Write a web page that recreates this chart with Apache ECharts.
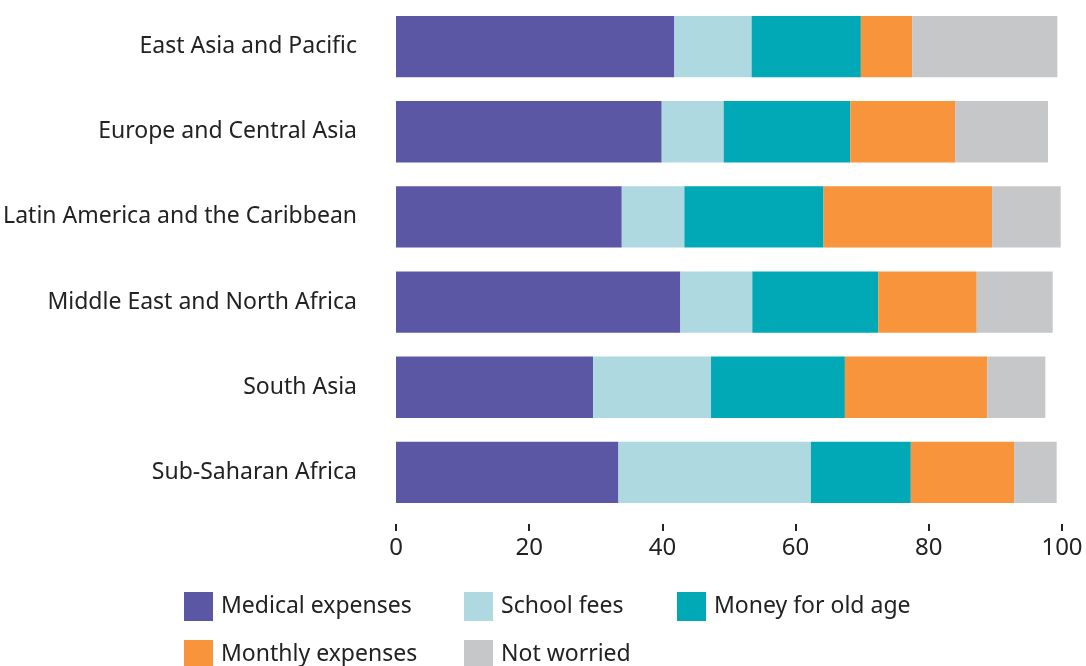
<!DOCTYPE html>
<html>
<head>
<meta charset="utf-8">
<script src="https://cdn.jsdelivr.net/npm/echarts@6/dist/echarts.min.js"></script>
<style>
    html, body { margin: 0; padding: 0; background: #fff; }
    #main { width: 1086px; height: 666px; }
</style>
</head>
<body>
<div id="main"></div>
<script>
    var regions = [
        'East Asia and Pacific',
        'Europe and Central Asia',
        'Latin America and the Caribbean',
        'Middle East and North Africa',
        'South Asia',
        'Sub-Saharan Africa'
    ];
    var medical = [41.8, 39.9, 33.9, 42.7, 29.6, 33.4];
    var school = [11.6, 9.3, 9.4, 10.8, 17.7, 28.9];
    var oldAge = [16.4, 19.0, 20.9, 18.9, 20.1, 15.0];
    var monthly = [7.7, 15.8, 25.3, 14.8, 21.4, 15.5];
    var notWorried = [21.8, 13.9, 10.3, 11.4, 8.7, 6.4];
    var xTicks = [0, 20, 40, 60, 80, 100];

    var names = ['Medical expenses', 'School fees', 'Money for old age', 'Monthly expenses', 'Not worried'];
    var values = [medical, school, oldAge, monthly, notWorried];
    var colors = ['#5c57a4', '#afd9e0', '#00a9b5', '#f7943c', '#c6c7c9'];

    var font = 'Noto Sans';
    var myChart = echarts.init(document.getElementById('main'));

    var series = [];
    for (var i = 0; i < names.length; i++) {
        series.push({
            name: names[i],
            type: 'bar',
            stack: 'total',
            barCategoryGap: '28%',
            itemStyle: {color: colors[i]},
            data: values[i]
        });
    }

    // one legend per item so the two rows line up in columns
    function legend(left, top, name) {
        return {
            left: left,
            top: top,
            itemWidth: 29,
            itemHeight: 29,
            icon: 'rect',
            data: [name],
            textStyle: {fontFamily: font, fontSize: 23, color: '#222', padding: [0, 0, 0, 3]}
        };
    }

    var option = {
        backgroundColor: '#fff',
        animation: false,
        color: colors,
        grid: {
            left: 396,
            right: 24,
            top: 4,
            height: 511
        },
        xAxis: {
            type: 'value',
            min: xTicks[0],
            max: xTicks[xTicks.length - 1],
            interval: 20,
            offset: 9,
            axisLine: {show: false},
            axisTick: {show: true, length: 7, lineStyle: {color: '#222', width: 2}},
            splitLine: {show: false},
            axisLabel: {
                margin: 12,
                fontFamily: font,
                fontSize: 24,
                color: '#222'
            }
        },
        yAxis: {
            type: 'category',
            inverse: true,
            data: regions,
            axisLine: {show: false},
            axisTick: {show: false},
            axisLabel: {
                margin: 39,
                fontFamily: font,
                fontSize: 23,
                color: '#222'
            }
        },
        legend: [
            legend(179, 587, 'Medical expenses'),
            legend(459, 587, 'School fees'),
            legend(672, 587, 'Money for old age'),
            legend(179, 635, 'Monthly expenses'),
            legend(459, 635, 'Not worried')
        ],
        series: series
    };
    myChart.setOption(option);
</script>
</body>
</html>
